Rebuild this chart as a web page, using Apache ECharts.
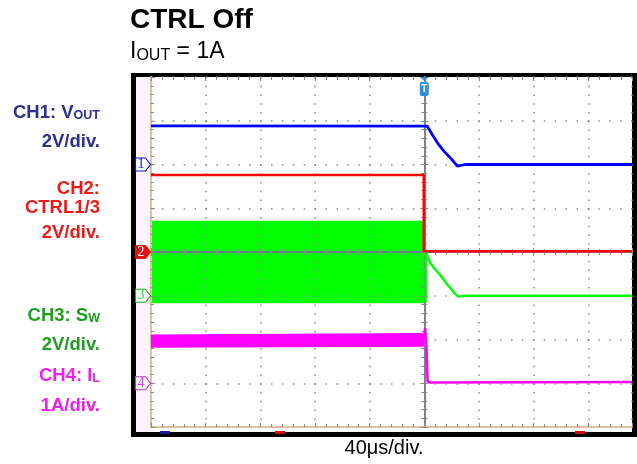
<!DOCTYPE html>
<html><head><meta charset="utf-8">
<script src="https://cdn.jsdelivr.net/npm/echarts@6/dist/echarts.min.js"></script>
<style>html,body{margin:0;padding:0;background:#fff}#c{width:637px;height:464px}</style>
</head><body><div id="c"></div>
<script>
// ---- time axis (µs), trigger at 0, 40 µs/div ----
const timeMin = -200, timeMax = 152, timeDiv = 40;
// ---- vertical screen in divisions ----
const divMin = -4, divMax = 4;

// CH1: VOUT (V), 2V/div, ground marker at +2 div
const ch1Scale = 2, ch1Offset = 2;
const ch1Time = [-200, 2.2, 6, 10.3, 14.5, 19.1, 24.2, 30, 152];
const ch1Volt = [1.77, 1.75, 1.35, 0.93, 0.6, 0.3, -0.07, 0.0, 0.0];

// CH2: CTRL1/3 (V), 2V/div, ground marker at 0 div
const ch2Scale = 2, ch2Offset = 0;
const ch2Time = [-200, -0.4, -0.4, 152];
const ch2Volt = [3.52, 3.52, 0.03, 0.03];

// CH3: SW (V), 2V/div, ground marker at -1 div (switching envelope before trigger)
const ch3Scale = 2, ch3Offset = -1;
const ch3BandTime = [-200, -0.5];
const ch3BandLow = [-0.31, -0.31];
const ch3BandHigh = [3.39, 3.39];
const ch3Time = [1.0, 1.3, 2.4, 4.4, 8, 11.7, 15.4, 19.1, 22, 25, 30, 152];
const ch3Volt = [-0.3, 2.09, 1.77, 1.5, 1.2, 0.95, 0.63, 0.35, 0.12, -0.04, 0.0, 0.0];

// CH4: IL (A), 1A/div, ground marker at -3 div (ripple envelope before trigger)
const ch4Scale = 1, ch4Offset = -3;
const ch4BandTime = [-200, -0.5];
const ch4BandLow = [0.83, 0.85];
const ch4BandHigh = [1.10, 1.13];
const ch4Time = [-0.5, 0.6, 1.5, 2.4, 4, 152];
const ch4Amp = [0.98, 1.26, 0.9, 0.04, 0.02, 0.03];

const markerOffsets = [ch1Offset, ch2Offset, ch3Offset, ch4Offset];

const cBlue = '#0000ff', cRed = '#ff0000', cGreen = '#00ff00', cMag = '#ff00ff';
const tan = '#d9c1a6', dot = '#8a8a8a', cross = '#6f7b8b';
const FONT = '"Liberation Sans", Arial, sans-serif';

const toDiv = (v, sc, off) => off + v / sc;
const zip = (ts, vs, sc, off) => ts.map((t, i) => [t, toDiv(vs[i], sc, off)]);
// band segments: [t0, t1, low0, high0, low1, high1] in divisions
const bandSegs = (ts, lo, hi, sc, off) => {
  const out = [];
  for (let i = 0; i < ts.length - 1; i++) {
    out.push([ts[i], ts[i + 1], toDiv(lo[i], sc, off), toDiv(hi[i], sc, off), toDiv(lo[i + 1], sc, off), toDiv(hi[i + 1], sc, off)]);
  }
  return out;
};
const bandSeries = (data, color, zl) => ({
  type: 'custom', zlevel: zl, silent: true, clip: true,
  encode: {x: [0, 1], y: [2, 3, 4, 5]},
  data: data,
  renderItem: (params, api) => {
    const a = api.coord([api.value(0), api.value(2)]);
    const b = api.coord([api.value(0), api.value(3)]);
    const c = api.coord([api.value(1), api.value(5)]);
    const d = api.coord([api.value(1), api.value(4)]);
    return {type: 'polygon', shape: {points: [a, b, c, d]}, style: {fill: color, stroke: color, lineWidth: 1.5}};
  }
});

const xBase = {type: 'value', min: timeMin, max: timeMax, interval: timeDiv, axisLabel: {show: false}, splitLine: {show: false}, zlevel: 1};
const yBase = {type: 'value', min: divMin, max: divMax, interval: 1, axisLabel: {show: false}, splitLine: {show: false}, zlevel: 1};
const tick = (inside) => ({show: true, inside: inside, length: 4, lineStyle: {color: dot, width: 1}});
const minor = {show: true, splitNumber: 5, length: 3, lineStyle: {color: dot, width: 1}};

const chart = echarts.init(document.getElementById('c'), null, {renderer: 'canvas'});
chart.setOption({
  animation: false,
  backgroundColor: '#fff',
  grid: {left: 151, top: 77, width: 481, height: 350},
  xAxis: [
    Object.assign({}, xBase, {position: 'bottom',
      axisLine: {onZero: false, lineStyle: {color: tan, width: 2}}, axisTick: tick(true), minorTick: minor,
      splitLine: {show: true, lineStyle: {color: dot, width: 1.5, type: [1.5, 7.25]}}}),
    Object.assign({}, xBase, {position: 'top',
      axisLine: {show: false, onZero: false}, axisTick: tick(true), minorTick: minor}),
    Object.assign({}, xBase, {position: 'bottom',
      axisLine: {onZero: true, onZeroAxisIndex: 0, lineStyle: {color: cross, width: 1.5}}, axisTick: tick(true), minorTick: minor}),
    Object.assign({}, xBase, {position: 'bottom',
      axisLine: {onZero: true, onZeroAxisIndex: 0, lineStyle: {color: cross, width: 1.5}}, axisTick: tick(false), minorTick: minor})
  ],
  yAxis: [
    Object.assign({}, yBase, {position: 'left',
      axisLine: {onZero: false, lineStyle: {color: tan, width: 2}}, axisTick: tick(true), minorTick: minor,
      splitLine: {show: true, lineStyle: {color: dot, width: 1.5, type: [1.5, 9.41]}}}),
    Object.assign({}, yBase, {position: 'left',
      axisLine: {onZero: true, onZeroAxisIndex: 0, lineStyle: {color: cross, width: 1.5}}, axisTick: tick(true), minorTick: minor}),
    Object.assign({}, yBase, {position: 'left',
      axisLine: {onZero: true, onZeroAxisIndex: 0, lineStyle: {color: cross, width: 1.5}}, axisTick: tick(false), minorTick: minor})
  ],
  series: [
    bandSeries(bandSegs(ch3BandTime, ch3BandLow, ch3BandHigh, ch3Scale, ch3Offset), cGreen, -1),
    bandSeries(bandSegs(ch4BandTime, ch4BandLow, ch4BandHigh, ch4Scale, ch4Offset), cMag, 2),
    {type: 'line', data: zip(ch4Time, ch4Amp, ch4Scale, ch4Offset), symbol: 'none', zlevel: 2,
      lineStyle: {color: cMag, width: 2.5}, silent: true},
    {type: 'line', data: zip(ch3Time, ch3Volt, ch3Scale, ch3Offset), symbol: 'none', zlevel: 2,
      lineStyle: {color: cGreen, width: 2.5}, silent: true},
    {type: 'line', data: zip(ch2Time, ch2Volt, ch2Scale, ch2Offset), symbol: 'none', zlevel: 2, z: 5,
      lineStyle: {color: cRed, width: 2.5}, silent: true},
    {type: 'line', data: zip(ch1Time, ch1Volt, ch1Scale, ch1Offset), symbol: 'none', zlevel: 2, z: 5,
      lineStyle: {color: cBlue, width: 2.8}, silent: true}
  ]
});

const yPix = v => chart.convertToPixel({yAxisIndex: 0}, v);
const xPix = v => chart.convertToPixel({xAxisIndex: 0}, v);

const g = [];
// scope frame decorations
g.push({type: 'rect', shape: {x: 136, y: 77, width: 15, height: 355}, style: {fill: '#fdf3fa'}, z: 0});
g.push({type: 'rect', shape: {x: 131, y: 73, width: 506, height: 4}, style: {fill: '#000'}, z: 0});
g.push({type: 'rect', shape: {x: 131, y: 73, width: 5, height: 364}, style: {fill: '#000'}, z: 0});
g.push({type: 'rect', shape: {x: 131, y: 432, width: 506, height: 5}, style: {fill: '#000'}, z: 0});
g.push({type: 'rect', shape: {x: 632, y: 73, width: 5, height: 364}, style: {fill: '#000'}, z: 0});
g.push({type: 'rect', shape: {x: 160, y: 431, width: 10, height: 3}, style: {fill: '#1a1aa0'}, z: 1});
g.push({type: 'rect', shape: {x: 275, y: 431, width: 10, height: 3}, style: {fill: '#cc1010'}, z: 1});
g.push({type: 'rect', shape: {x: 575, y: 431, width: 10, height: 3}, style: {fill: '#cc1010'}, z: 1});

// channel ground markers
const mk = [
  {t: '1', stroke: '#1010e0', fill: '#fff', tc: '#1010e0'},
  {t: '2', stroke: '#e81010', fill: '#e81010', tc: '#fff'},
  {t: '3', stroke: '#22aa22', fill: '#fff', tc: '#44cc44'},
  {t: '4', stroke: '#cc33cc', fill: '#fff', tc: '#dd44dd'}
];
mk.forEach((m, i) => {
  const yc = yPix(markerOffsets[i]);
  const x0 = 135.5, x1 = 145.5, xt = 150.5, h = 6.5;
  g.push({type: 'polygon', shape: {points: [[x0, yc - h], [x1, yc - h], [xt, yc], [x1, yc + h], [x0, yc + h]]},
    style: {fill: m.fill, stroke: m.stroke, lineWidth: 1.2}, z: 2, zlevel: 3});
  g.push({type: 'text', x: 141, y: yc, style: {text: m.t, fill: m.tc, font: '14px "Liberation Serif", serif',
    align: 'center', verticalAlign: 'middle'}, z: 3, zlevel: 3});
});

// trigger marker
const xt = xPix(0);
g.push({type: 'polygon', shape: {points: [[xt - 4.5, 77], [xt + 4.5, 77], [xt, 81]]}, style: {fill: '#2f8fe0'}, z: 6, zlevel: 3});
g.push({type: 'rect', shape: {x: xt - 4.5, y: 82, width: 9, height: 14, r: 2}, style: {fill: '#2f8fe0'}, z: 6, zlevel: 3});
g.push({type: 'text', x: xt, y: 89, style: {text: 'T', fill: '#fff', font: 'bold 10px ' + FONT, align: 'center', verticalAlign: 'middle'}, z: 7, zlevel: 3});

// titles
g.push({type: 'text', x: 130, y: 20, style: {text: 'CTRL Off', fill: '#000', font: 'bold 28px ' + FONT, align: 'left', verticalAlign: 'middle'}});
g.push({type: 'text', x: 130, y: 52, style: {text: '{a|I}{s|OUT}{a| = 1A}', align: 'left', verticalAlign: 'middle',
  rich: {a: {fontFamily: FONT, fontSize: 23, fill: '#000', verticalAlign: 'bottom'},
         s: {fontFamily: FONT, fontSize: 16, fill: '#000', verticalAlign: 'bottom'}}}});

// channel labels
const c1 = '#2d2f92', c2 = '#f01818', c3 = '#1e9e1e', c4 = '#f01cf0';
function lab(main, sub, y, col) {
  const txt = sub ? '{a|' + main + '}{s|' + sub + '}' : '{a|' + main + '}';
  g.push({type: 'text', x: 100, y: y, style: {text: txt, align: 'right', verticalAlign: 'middle',
    rich: {a: {fontFamily: FONT, fontWeight: 'bold', fontSize: 18.5, fill: col, verticalAlign: 'bottom'},
           s: {fontFamily: FONT, fontWeight: 'bold', fontSize: 12.5, fill: col, verticalAlign: 'bottom'}}}});
}
lab('CH1: V', 'OUT', 112.5, c1);
lab('2V/div.', null, 142, c1);
lab('CH2:', null, 188.5, c2);
lab('CTRL1/3', null, 207.5, c2);
lab('2V/div.', null, 233, c2);
lab('CH3: S', 'W', 315.5, c3);
lab('2V/div.', null, 345, c3);
lab('CH4: I', 'L', 375.5, c4);
lab('1A/div.', null, 405.5, c4);

g.push({type: 'text', x: 384, y: 448, style: {text: '40μs/div.', fill: '#000', font: '20px ' + FONT, align: 'center', verticalAlign: 'middle'}});

chart.setOption({graphic: {elements: g}});
</script></body></html>
